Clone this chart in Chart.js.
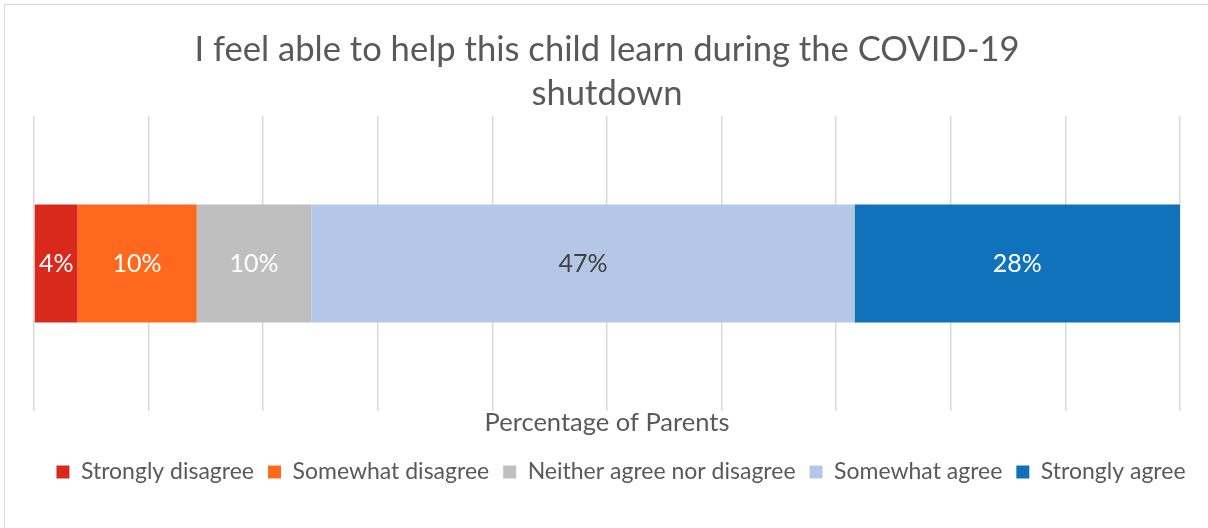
<!DOCTYPE html>
<html>
<head>
<meta charset="utf-8">
<script src="https://cdn.jsdelivr.net/npm/chart.js@4.4.1/dist/chart.umd.min.js"></script>
<style>
    html, body { margin: 0; padding: 0; background: #ffffff; }
    #wrap { position: relative; width: 1208px; height: 528px; overflow: hidden; }
    #frame {
        position: absolute; left: 4px; top: 4px; width: 1210px; height: 540px;
        border: 1px solid #d9d9d9; box-sizing: border-box; pointer-events: none;
    }
    canvas { position: absolute; left: 0; top: 0; }
</style>
</head>
<body>
<div id="wrap">
    <canvas id="chart" width="1208" height="528"></canvas>
    <div id="frame"></div>
</div>
<script>
// Survey responses (share of parents, %)
const categories = ['Percentage of Parents'];
const responseLabels = ['Strongly disagree', 'Somewhat disagree', 'Neither agree nor disagree', 'Somewhat agree', 'Strongly agree'];
const responseValues = [3.8, 10.4, 10.0, 47.4, 28.4];
const responseColors = ['#d9291c', '#ff681d', '#bfbfbf', '#b4c7e7', '#0f72ba'];
const labelColors = ['#ffffff', '#ffffff', '#ffffff', '#404040', '#ffffff'];

const FONT = "'Source Sans Pro', Lato, 'Open Sans', sans-serif";
const TEXT_COLOR = '#595959';

// Draws the rounded percentage in the middle of each segment
const segmentLabels = {
    id: 'segmentLabels',
    afterDatasetsDraw(chart) {
        const ctx = chart.ctx;
        ctx.save();
        ctx.font = `25px ${FONT}`;
        ctx.textAlign = 'center';
        ctx.textBaseline = 'middle';
        chart.data.datasets.forEach((ds, i) => {
            const meta = chart.getDatasetMeta(i);
            meta.data.forEach((bar, j) => {
                const p = bar.getCenterPoint();
                ctx.fillStyle = labelColors[i];
                ctx.fillText(Math.round(ds.data[j]) + '%', p.x, p.y);
            });
        });
        ctx.restore();
    }
};

const datasets = responseLabels.map((label, i) => ({
    label: label,
    data: [responseValues[i]],
    backgroundColor: responseColors[i],
    borderWidth: 0,
    barPercentage: 1,
    categoryPercentage: 0.4
}));

new Chart(document.getElementById('chart'), {
    type: 'bar',
    data: { labels: categories, datasets: datasets },
    plugins: [segmentLabels],
    options: {
        indexAxis: 'y',
        responsive: false,
        animation: false,
        layout: { padding: { left: 34, right: 0, top: 14, bottom: 34.5 } },
        scales: {
            x: {
                stacked: true,
                min: 0,
                max: 100,
                ticks: { display: false, stepSize: 10 },
                grid: { color: '#d9d9d9', lineWidth: 1.5, drawTicks: false },
                border: { display: false },
                title: {
                    display: true,
                    text: 'Percentage of Parents',
                    color: TEXT_COLOR,
                    font: { family: FONT, size: 25.5, lineHeight: 1 },
                    padding: { top: -1, bottom: 11 }
                }
            },
            // empty category axis on the right keeps a margin beside the bars
            // while the legend can still use the full width
            y: {
                stacked: true,
                position: 'right',
                ticks: { display: false },
                grid: { display: false },
                border: { display: false },
                afterFit(scale) { scale.width = 28; }
            }
        },
        plugins: {
            title: {
                display: true,
                fullSize: false,
                text: ['I feel able to help this child learn during the COVID-19', 'shutdown'],
                color: TEXT_COLOR,
                font: { family: FONT, size: 34.6, weight: 'normal', lineHeight: 1.27 },
                padding: { top: 14, bottom: 0 }
            },
            legend: {
                position: 'bottom',
                labels: {
                    color: TEXT_COLOR,
                    font: { family: FONT, size: 23 },
                    boxWidth: 13,
                    boxHeight: 13,
                    padding: 14
                }
            },
            tooltip: { enabled: false }
        }
    }
});
</script>
</body>
</html>
